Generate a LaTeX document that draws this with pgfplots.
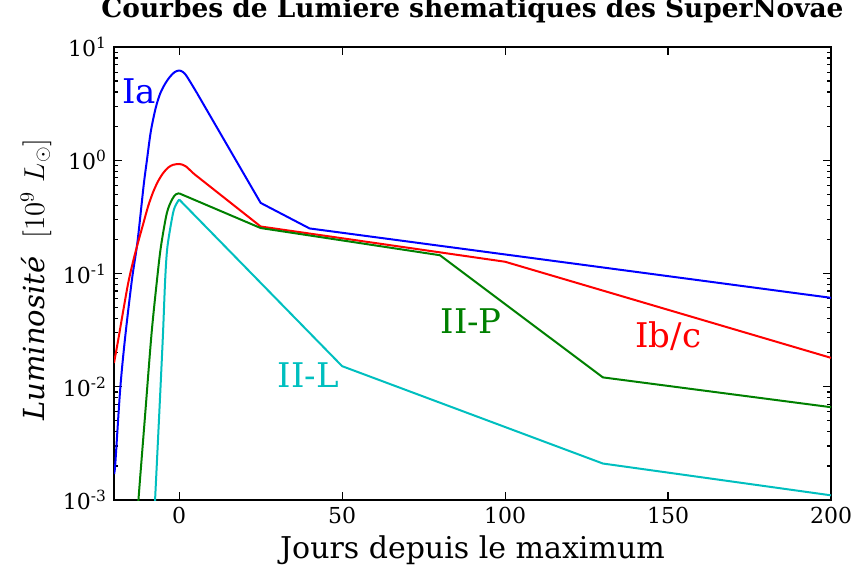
\documentclass[border=0pt]{standalone}
\usepackage{pgfplots}
\pgfplotsset{compat=1.18}
\usepackage{fontspec}
\setmainfont{DejaVu Serif}
\definecolor{mplblue}{rgb}{0,0,1}
\definecolor{mplred}{rgb}{1,0,0}
\definecolor{mplgreen}{rgb}{0,0.5,0}
\definecolor{mplcyan}{rgb}{0,0.75,0.75}
\begin{document}
\begin{tikzpicture}
\begin{axis}[
  scale only axis, width=358.5pt, height=226.5pt,
  xmin=-20, xmax=200, ymin=1e-3, ymax=10, ymode=log,
  xtick={0,50,100,150,200}, xticklabels={0,50,100,150,200},
  ytick={0.001,0.01,0.1,1,10},
  yticklabels={10\textsuperscript{-3},10\textsuperscript{-2},10\textsuperscript{-1},10\textsuperscript{0},10\textsuperscript{1}},
  tick label style={font=\fontsize{11}{13}\selectfont},
  axis line style={line width=1pt},
  major tick length=4pt, minor tick length=2pt,
  every tick/.style={black, line width=0.6pt},
  title={Courbes de Lumiere shematiques des SuperNovae},
  title style={at={(0.5,1)}, anchor=base, yshift=8.5pt, font=\bfseries\fontsize{13.2}{15}\selectfont},
  xlabel={Jours depuis le maximum},
  xlabel style={at={(0.5,0)}, anchor=base, yshift=-29pt, font=\fontsize{15}{18}\selectfont},
  every axis plot/.append style={line width=1pt, line join=round},
]
% Ia
\addplot[mplblue, smooth, tension=0.5] coordinates {(-20,0.0017)(-19.6,0.0021)(-18.1,0.0095)(-16.6,0.027)(-14.5,0.088)(-12.8,0.19)(-10.9,0.6)(-9.9,1.0)(-8.7,1.8)(-7.2,2.9)(-5.8,3.9)(-4.2,4.8)(-2.8,5.47)(-1.4,6.0)(0,6.2)(1.2,6.0)(2.4,5.47)(5.5,3.9)};
\addplot[mplblue] coordinates {(5.5,3.9)(25,0.42)(40,0.25)(200,0.061)};
% Ib/c
\addplot[mplred, smooth, tension=0.5] coordinates {(-20,0.0162)(-18.71,0.0259)(-17.18,0.0467)(-15.64,0.0824)(-14.11,0.129)(-12.58,0.190)(-11.04,0.274)(-9.51,0.394)(-7.98,0.525)(-6.44,0.656)(-4.91,0.771)(-3.37,0.863)(-1.84,0.912)(0,0.927)(1,0.915)(2,0.885)(3,0.835)(4.5,0.76)};
\addplot[mplred] coordinates {(4.5,0.76)(25,0.26)(100,0.127)(200,0.018)};
% II-P
\addplot[mplgreen, smooth, tension=0.5] coordinates {(-12.9,0.0006)(-12.5,0.001)(-10.4,0.0059)(-8.5,0.029)(-6.8,0.088)(-5.6,0.173)(-3.8,0.34)(-2.2,0.45)(-1,0.5)(0,0.51)};
\addplot[mplgreen] coordinates {(0,0.51)(25,0.252)(80,0.145)(130,0.0121)(200,0.0066)};
% II-L
\addplot[mplcyan, smooth, tension=0.5] coordinates {(-7.8,0.0006)(-7.4,0.001)(-6.1,0.0059)(-5.0,0.028)(-4.3,0.088)(-3.6,0.173)(-1.9,0.34)(-0.9,0.41)(0,0.45)};
\addplot[mplcyan] coordinates {(0,0.45)(50,0.0152)(130,0.0021)(200,0.0011)};
\node[anchor=base west, inner sep=0, text=mplblue, font=\fontsize{17}{20}\selectfont] at (axis cs:-17.5,3.2) {Ia};
\node[anchor=base west, inner sep=0, text=mplgreen, font=\fontsize{17}{20}\selectfont] at (axis cs:80.1,0.0298) {II-P};
\node[anchor=base west, inner sep=0, text=mplred, font=\fontsize{17}{20}\selectfont] at (axis cs:139.9,0.022) {Ib/c};
\node[anchor=base west, inner sep=0, text=mplcyan, font=\fontsize{17}{20}\selectfont] at (axis cs:30.1,0.00995) {II-L};
\end{axis}
\node[rotate=90, anchor=base, font=\fontsize{14.5}{17}\selectfont] at ([xshift=-35pt,yshift=-3pt]current axis.west) {\textit{Luminosité}\ \ $[10^9\ L_\odot]$};
\pgfresetboundingbox
\useasboundingbox ([shift={(-57pt,-35pt)}]current axis.south west) rectangle ([shift={(11pt,23.5pt)}]current axis.north east);
\end{tikzpicture}
\end{document}
